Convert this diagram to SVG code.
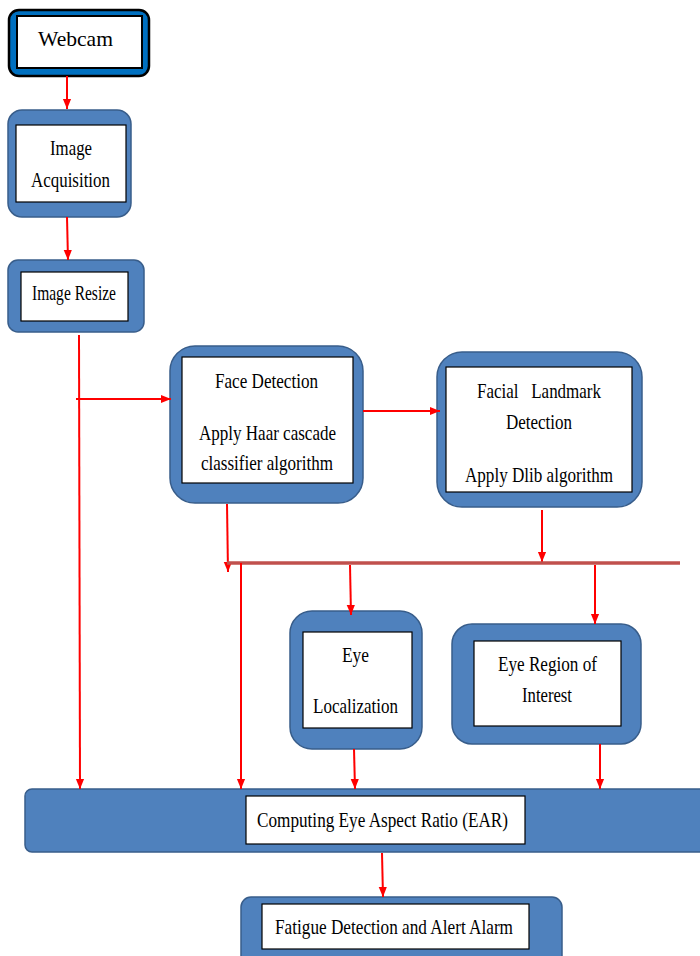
<svg xmlns="http://www.w3.org/2000/svg" width="700" height="956" viewBox="0 0 700 956">
<defs>
<marker id="ah" markerUnits="userSpaceOnUse" markerWidth="10" markerHeight="11" viewBox="0 0 11 10" refX="11" refY="5" orient="auto">
<polygon points="0,0.5 11,5 0,9.5" fill="#FF0000"/>
</marker>
<style>
.box{fill:#4F81BD;stroke:#385D8A;stroke-width:1.5}
.in{fill:#FFFFFF;stroke:#000000;stroke-width:1.2}
.t{font-family:"Liberation Serif","Times New Roman",serif;font-size:21px;fill:#000000;text-anchor:start}
.c{stroke:#FF0000;stroke-width:2;fill:none}
</style>
</defs>
<rect width="700" height="956" fill="#FFFFFF"/>
<g id="webcam">
<rect x="9" y="10" width="140" height="66" rx="10" fill="#0070C0" stroke="#000000" stroke-width="2.5"/>
<rect x="17" y="16" width="125" height="52" fill="#FFFFFF" stroke="#000000" stroke-width="2"/>
<text class="t" x="38" y="46" textLength="75" lengthAdjust="spacingAndGlyphs">Webcam</text>
</g>
<g id="acquisition">
<rect class="box" x="8" y="110" width="123" height="107" rx="14"/>
<rect class="in" x="16" y="125" width="110" height="77"/>
<text class="t" x="50" y="155" textLength="42" lengthAdjust="spacingAndGlyphs">Image</text>
<text class="t" x="31" y="187" textLength="79" lengthAdjust="spacingAndGlyphs">Acquisition</text>
</g>
<g id="resize">
<rect class="box" x="8" y="260" width="136" height="72" rx="10"/>
<rect class="in" x="21" y="272" width="107" height="49"/>
<text class="t" x="32" y="300" font-size="19" textLength="84" lengthAdjust="spacingAndGlyphs">Image Resize</text>
</g>
<g id="face">
<rect class="box" x="170" y="346" width="193" height="157" rx="25"/>
<rect class="in" x="182" y="357" width="171" height="126"/>
<text class="t" x="215" y="388" textLength="103" lengthAdjust="spacingAndGlyphs">Face Detection</text>
<text class="t" x="199" y="440" textLength="137" lengthAdjust="spacingAndGlyphs">Apply Haar cascade</text>
<text class="t" x="201" y="470" textLength="132" lengthAdjust="spacingAndGlyphs">classifier algorithm</text>
</g>
<g id="landmark">
<rect class="box" x="437" y="352" width="205" height="155" rx="25"/>
<rect class="in" x="446" y="367" width="186" height="125"/>
<text class="t" x="477" y="398" textLength="124" lengthAdjust="spacingAndGlyphs" xml:space="preserve">Facial   Landmark</text>
<text class="t" x="506" y="429" textLength="66" lengthAdjust="spacingAndGlyphs">Detection</text>
<text class="t" x="465" y="482" textLength="148" lengthAdjust="spacingAndGlyphs">Apply Dlib algorithm</text>
</g>
<g id="eyeloc">
<rect class="box" x="290" y="611" width="132" height="138" rx="22"/>
<rect class="in" x="303" y="632" width="109" height="96"/>
<text class="t" x="342" y="662" textLength="27" lengthAdjust="spacingAndGlyphs">Eye</text>
<text class="t" x="313" y="713" textLength="85" lengthAdjust="spacingAndGlyphs">Localization</text>
</g>
<g id="eyeroi">
<rect class="box" x="452" y="624" width="189" height="120" rx="20"/>
<rect class="in" x="474" y="641" width="147" height="85"/>
<text class="t" x="498" y="671" textLength="99" lengthAdjust="spacingAndGlyphs">Eye Region of</text>
<text class="t" x="522" y="702" textLength="50" lengthAdjust="spacingAndGlyphs">Interest</text>
</g>
<g id="ear">
<rect class="box" x="25" y="789" width="690" height="63" rx="7"/>
<rect class="in" x="246" y="796" width="279" height="48"/>
<text class="t" x="257" y="827" textLength="251" lengthAdjust="spacingAndGlyphs">Computing Eye Aspect Ratio (EAR)</text>
</g>
<g id="fatigue">
<rect class="box" x="241" y="897" width="321" height="70" rx="10"/>
<rect class="in" x="262" y="904" width="267" height="45"/>
<text class="t" x="275" y="934" textLength="238" lengthAdjust="spacingAndGlyphs">Fatigue Detection and Alert Alarm</text>
</g>
<g id="connectors">
<line class="c" x1="67" y1="76" x2="67" y2="109" marker-end="url(#ah)"/>
<line class="c" x1="67" y1="217" x2="68" y2="260" marker-end="url(#ah)"/>
<line class="c" x1="79" y1="335" x2="80" y2="789" marker-end="url(#ah)"/>
<line class="c" x1="76" y1="399" x2="171" y2="399" marker-end="url(#ah)"/>
<line class="c" x1="363" y1="411" x2="440" y2="411" marker-end="url(#ah)"/>
<line class="c" x1="227" y1="504" x2="228" y2="572" marker-end="url(#ah)"/>
<line class="c" x1="542" y1="510" x2="542" y2="562" marker-end="url(#ah)"/>
<line x1="227" y1="563" x2="680" y2="563" stroke="#C0504D" stroke-width="3.5"/>
<line class="c" x1="241" y1="563" x2="241" y2="789" marker-end="url(#ah)"/>
<line class="c" x1="350" y1="565" x2="351" y2="615" marker-end="url(#ah)"/>
<line class="c" x1="595" y1="565" x2="595" y2="624" marker-end="url(#ah)"/>
<line class="c" x1="354" y1="749" x2="355" y2="789" marker-end="url(#ah)"/>
<line class="c" x1="600" y1="744" x2="600" y2="789" marker-end="url(#ah)"/>
<line class="c" x1="382" y1="853" x2="383" y2="897" marker-end="url(#ah)"/>
</g>
</svg>
